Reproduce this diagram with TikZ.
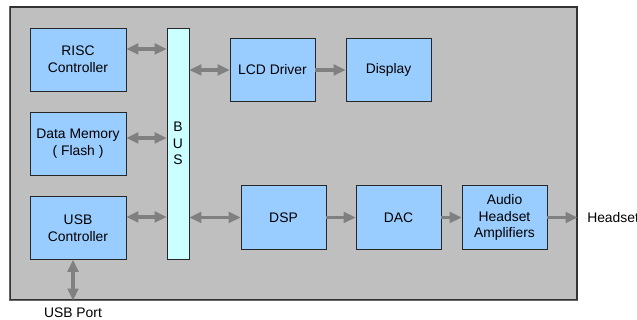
\documentclass[tikz,border=0pt]{standalone}
\usepackage{fontspec}
\setmainfont{Liberation Sans}
\usepackage{color}
\usetikzlibrary{arrows.meta,positioning}
\definecolor{blockblue}{RGB}{153,204,255}
\definecolor{buscyan}{RGB}{204,255,255}

\begin{document}
\begin{tikzpicture}
[x=0.75pt,y=-0.75pt,
every node/.style={font=\fontsize{10.4}{12.5}\selectfont,align=center,inner sep=0pt},
block/.style={draw=black!85,fill=blockblue,line width=.6pt,minimum width=72pt,minimum height=47.25pt},
sblock/.style={block,minimum width=63.75pt,minimum height=47.5pt},
link/.style={draw=black!50,line width=2.3pt,-{Triangle[length=9pt,width=8pt]}},
blink/.style={link,{Triangle[length=9pt,width=8pt]}-{Triangle[length=9pt,width=8pt]}}]
\useasboundingbox (0,0) rectangle (637,320);
% chip outline
\node (chip) [draw=black!80,fill=black!25,line width=.8pt,minimum width=425.25pt,minimum height=219.75pt] at (293.5,153.5) {};
\draw [black!60,line width=1.2pt] (chip.north west) -- (chip.south west) -- (chip.south east);
% blocks
\node (risc) [block] at (78,59.5) {RISC\\Controller};
\node (mem) [block] at (78,143.5) {Data Memory\\( Flash )};
\node (usb) [block] at (78,228) {USB\\Controller};
\node (bus) [draw=black!85,fill=buscyan,line width=.6pt,minimum width=16.5pt,minimum height=173.25pt] at (178,143.5) {B\\U\\S};
\node (lcd) [sblock] at (272.5,70) {LCD Driver};
\node (disp) [sblock] at (388.5,70) {Display};
\node (dsp) [sblock] at (283.5,217.5) {DSP};
\node (dac) [sblock] at (398.5,217.5) {DAC};
\node (amp) [sblock] at (504.5,217.5) {Audio\\Headset\\Amplifiers};
\node (head) [anchor=west] at (587,217.5) {Headset};
\node (port) at (73,313) {USB Port};
% connections
\draw [blink] (risc.east |- 0,49) -- (bus.west |- 0,49);
\draw [blink] (mem.east |- 0,138) -- (bus.west |- 0,138);
\draw [blink] (usb.east |- 0,217) -- (bus.west |- 0,217);
\draw [blink] (bus.east |- lcd.west) -- (lcd.west);
\draw [blink] (bus.east |- dsp.west) -- (dsp.west);
\draw [link] (lcd) -- (disp);
\draw [link] (dsp) -- (dac);
\draw [link] (dac) -- (amp);
\draw [link] (amp.east) -- (amp.east -| chip.east);
\draw [blink] (usb.south -| 73,0) -- (73,0 |- chip.south);
\end{tikzpicture}
\end{document}
